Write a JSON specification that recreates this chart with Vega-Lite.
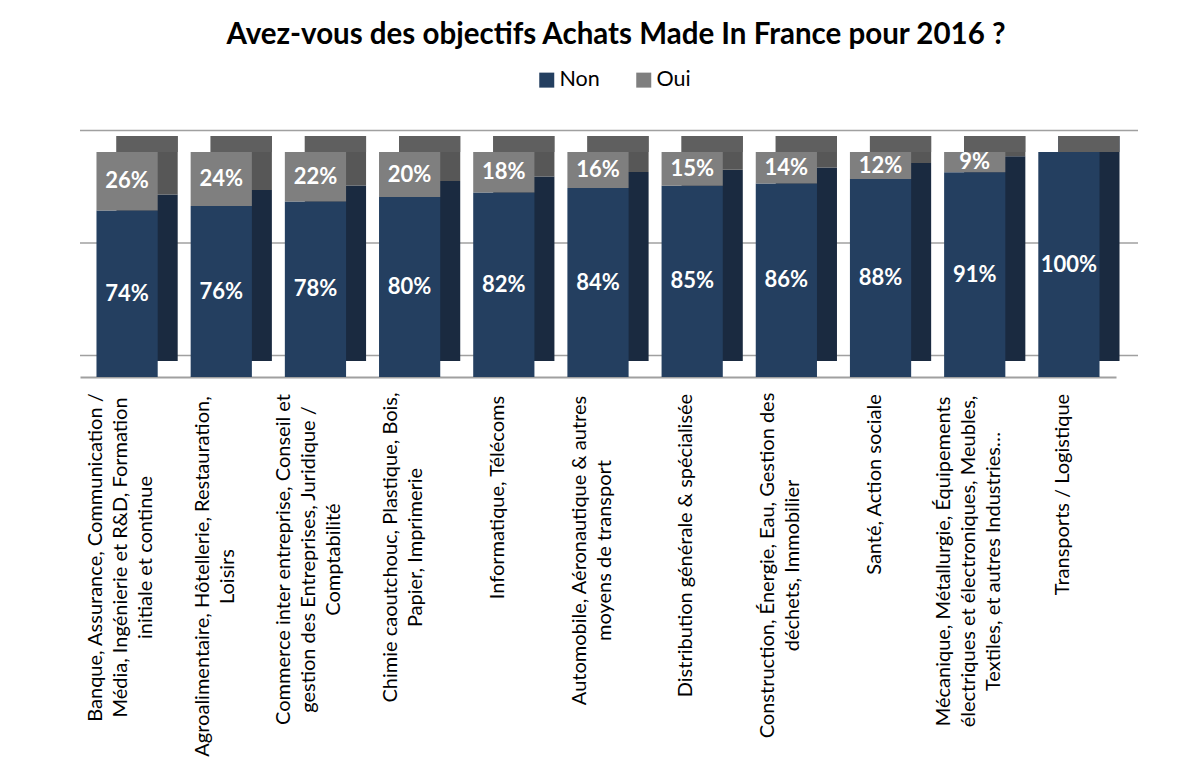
{
  "$schema": "https://vega.github.io/schema/vega-lite/v6.json",
  "width": 1036,
  "height": 225,
  "autosize": {"type": "none"},
  "padding": {"left": 80, "right": 83, "top": 152, "bottom": 394},
  "background": "white",
  "config": {"font": "Lato", "view": {"stroke": null}},
  "title": {"text": "Avez-vous des objectifs Achats Made In France pour 2016 ?", "fontSize": 29.5, "fontWeight": "bold", "color": "#000000", "font": "Lato", "anchor": "middle", "dx": 18, "offset": 19},
  "datasets": {
    "main": [
      {"cat": "Banque, Assurance, Communication /|Média, Ingénierie et R&D, Formation|initiale et continue", "rep": "Non", "val": 0.74},
      {"cat": "Banque, Assurance, Communication /|Média, Ingénierie et R&D, Formation|initiale et continue", "rep": "Oui", "val": 0.26},
      {"cat": "Agroalimentaire, Hôtellerie, Restauration,|Loisirs", "rep": "Non", "val": 0.76},
      {"cat": "Agroalimentaire, Hôtellerie, Restauration,|Loisirs", "rep": "Oui", "val": 0.24},
      {"cat": "Commerce inter entreprise, Conseil et|gestion des Entreprises, Juridique /|Comptabilité", "rep": "Non", "val": 0.78},
      {"cat": "Commerce inter entreprise, Conseil et|gestion des Entreprises, Juridique /|Comptabilité", "rep": "Oui", "val": 0.22},
      {"cat": "Chimie caoutchouc, Plastique, Bois,|Papier, Imprimerie", "rep": "Non", "val": 0.80},
      {"cat": "Chimie caoutchouc, Plastique, Bois,|Papier, Imprimerie", "rep": "Oui", "val": 0.20},
      {"cat": "Informatique, Télécoms", "rep": "Non", "val": 0.82},
      {"cat": "Informatique, Télécoms", "rep": "Oui", "val": 0.18},
      {"cat": "Automobile, Aéronautique & autres|moyens de transport", "rep": "Non", "val": 0.84},
      {"cat": "Automobile, Aéronautique & autres|moyens de transport", "rep": "Oui", "val": 0.16},
      {"cat": "Distribution générale & spécialisée", "rep": "Non", "val": 0.85},
      {"cat": "Distribution générale & spécialisée", "rep": "Oui", "val": 0.15},
      {"cat": "Construction, Énergie, Eau, Gestion des|déchets, Immobilier", "rep": "Non", "val": 0.86},
      {"cat": "Construction, Énergie, Eau, Gestion des|déchets, Immobilier", "rep": "Oui", "val": 0.14},
      {"cat": "Santé, Action sociale", "rep": "Non", "val": 0.88},
      {"cat": "Santé, Action sociale", "rep": "Oui", "val": 0.12},
      {"cat": "Mécanique, Métallurgie, Équipements|électriques et électroniques, Meubles,|Textiles, et autres Industries…", "rep": "Non", "val": 0.91},
      {"cat": "Mécanique, Métallurgie, Équipements|électriques et électroniques, Meubles,|Textiles, et autres Industries…", "rep": "Oui", "val": 0.09},
      {"cat": "Transports / Logistique", "rep": "Non", "val": 1.00},
      {"cat": "Transports / Logistique", "rep": "Oui", "val": 0.00}
    ],
    "grid": [{"g": 0}, {"g": 0.5}, {"g": 1}]
  },
  "resolve": {"scale": {"color": "independent"}, "legend": {"color": "independent"}},
  "layer": [
    {
      "data": {"name": "grid"},
      "mark": {"type": "rule", "xOffset": 22, "x2Offset": 22, "yOffset": -21.5, "color": "#a0a0a0", "strokeWidth": 1.5},
      "encoding": {"y": {"field": "g", "type": "quantitative", "scale": {"domain": [0, 1]}, "axis": null}}
    },
    {
      "data": {"name": "main"},
      "mark": {"type": "bar", "xOffset": 20, "x2Offset": 20, "yOffset": -16, "y2Offset": -16},
      "encoding": {
        "x": {"field": "cat", "type": "nominal", "sort": null, "scale": {"paddingInner": 0.35, "paddingOuter": 0.175},
          "axis": {
            "title": null, "labelAngle": -90, "labelAlign": "center", "labelBaseline": "middle", "ticks": false,
            "domain": true, "domainColor": "#a0a0a0", "domainWidth": 2,
            "labelFontSize": 20, "labelFont": "Lato", "labelColor": "#000000", "labelLimit": 400, "labelLineHeight": 25,
            "labelOverlap": false, "labelExpr": "split(datum.label, '|')",
            "labelOffset": {"condition": [
              {"test": "indexof(datum.value, '|') < 0", "value": -6},
              {"test": "length(split(datum.value, '|')) == 2", "value": -18.5}
            ], "value": -31},
            "labelPadding": {"condition": [
              {"test": "indexof(datum.value, 'Banque') == 0", "value": 180},
              {"test": "indexof(datum.value, 'Agroalimentaire') == 0", "value": 199},
              {"test": "indexof(datum.value, 'Commerce') == 0", "value": 182},
              {"test": "indexof(datum.value, 'Chimie') == 0", "value": 170},
              {"test": "indexof(datum.value, 'Informatique') == 0", "value": 120},
              {"test": "indexof(datum.value, 'Automobile') == 0", "value": 173},
              {"test": "indexof(datum.value, 'Distribution') == 0", "value": 168},
              {"test": "indexof(datum.value, 'Construction') == 0", "value": 188},
              {"test": "indexof(datum.value, 'Santé') == 0", "value": 107},
              {"test": "indexof(datum.value, 'Mécanique') == 0", "value": 184}
            ], "value": 117}
          }},
        "y": {"field": "val", "type": "quantitative", "stack": "zero", "scale": {"domain": [0, 1]}, "axis": null},
        "order": {"field": "rep", "sort": "ascending"},
        "color": {"field": "rep", "type": "nominal", "scale": {"domain": ["Non", "Oui"], "range": ["#1a2a40", "#575757"]}, "legend": null}
      }
    },
    {
      "data": {"name": "main"},
      "transform": [{"filter": "datum.rep == 'Non'"}],
      "mark": {"type": "bar", "xOffset": 20, "x2Offset": 20, "yOffset": -16, "y2Offset": 0, "color": "#5f5f5f"},
      "encoding": {
        "x": {"field": "cat", "type": "nominal", "sort": null},
        "y": {"datum": 1, "type": "quantitative"},
        "y2": {"datum": 1}
      }
    },
    {
      "data": {"name": "main"},
      "mark": {"type": "bar"},
      "encoding": {
        "x": {"field": "cat", "type": "nominal", "sort": null},
        "y": {"field": "val", "type": "quantitative", "stack": "zero"},
        "order": {"field": "rep", "sort": "ascending"},
        "color": {"field": "rep", "type": "nominal", "scale": {"domain": ["Non", "Oui"], "range": ["#243f60", "#7f7f7f"]},
          "legend": {"orient": "none", "legendX": 456, "legendY": -83, "direction": "horizontal", "title": null, "symbolType": "square", "symbolSize": 225, "symbolStrokeWidth": 0, "symbolOpacity": 1, "labelFontSize": 21.5, "labelFont": "Lato", "labelColor": "#000000", "labelOffset": 2, "columnPadding": 33, "padding": 0}}
      }
    },
    {
      "data": {"name": "main"},
      "transform": [{"filter": "datum.val > 0"}],
      "mark": {"type": "text", "color": "white", "fontSize": 22, "fontWeight": "bold", "font": "Lato"},
      "encoding": {
        "x": {"field": "cat", "type": "nominal", "sort": null},
        "y": {"field": "val", "type": "quantitative", "stack": "zero", "bandPosition": 0.5},
        "order": {"field": "rep", "sort": "ascending"},
        "detail": {"field": "rep"},
        "text": {"field": "val", "type": "quantitative", "format": ".0%"}
      }
    }
  ]
}
